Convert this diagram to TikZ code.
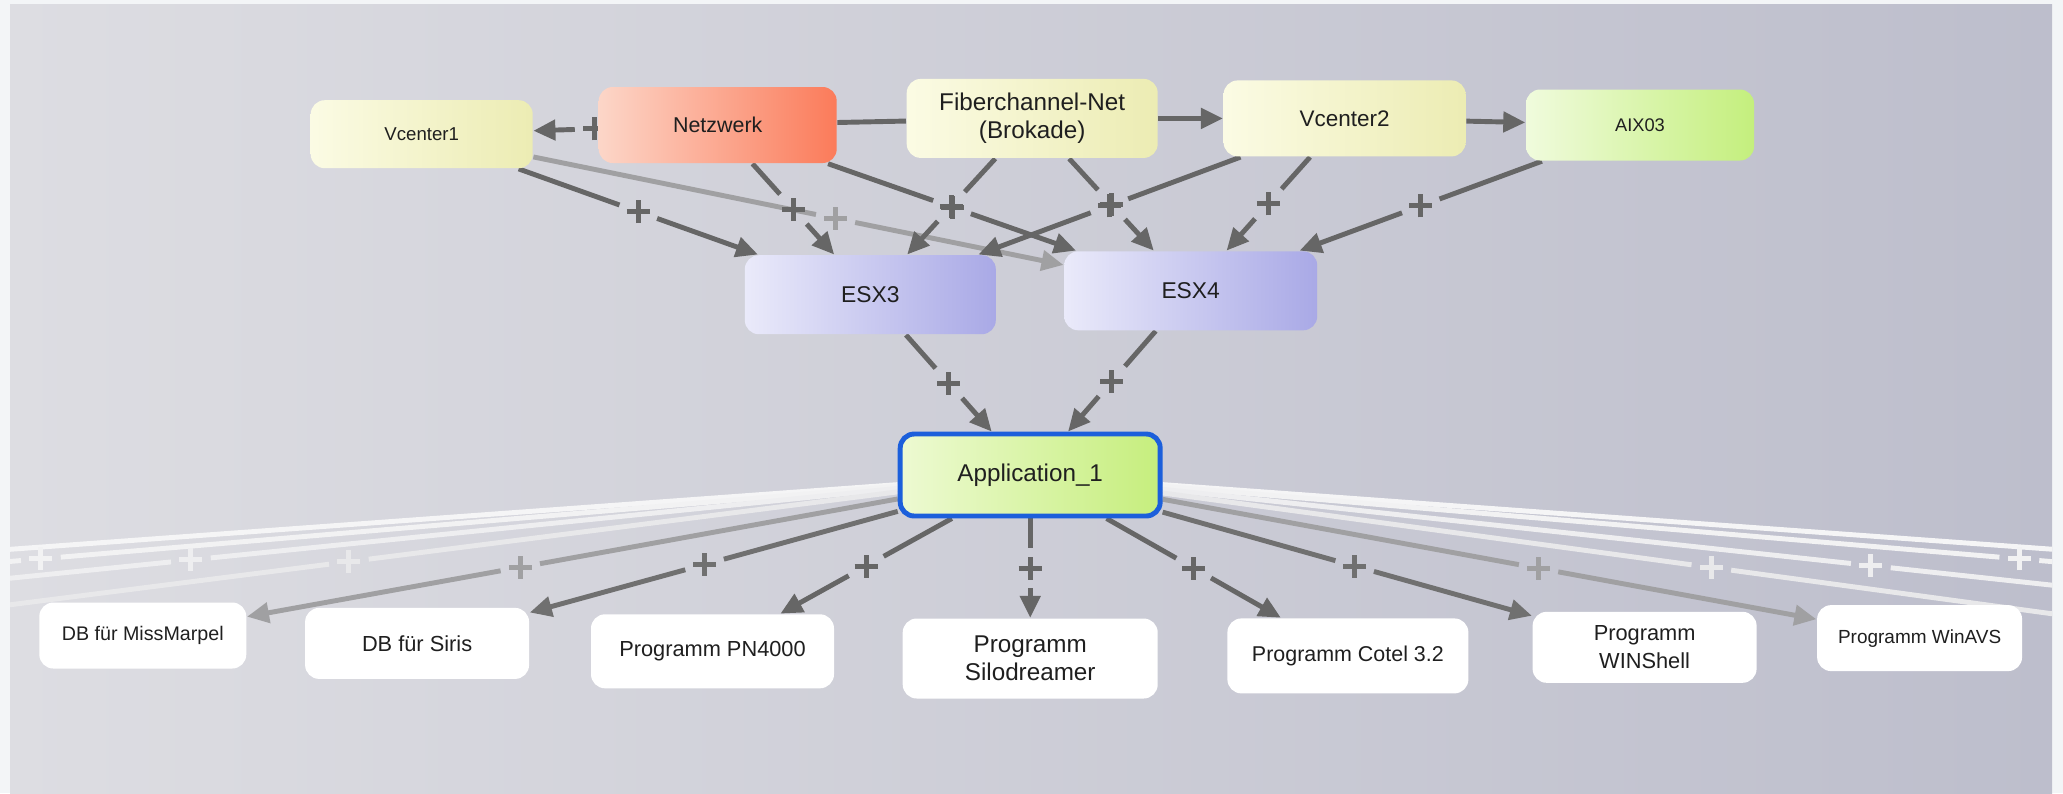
\documentclass[tikz,border=0pt]{standalone}
\usepackage{fontspec}
\setmainfont{Liberation Sans}
\usetikzlibrary{arrows.meta,backgrounds}

\definecolor{outside}{HTML}{F3F5F7}
\definecolor{paneL}{HTML}{DDDDE2}
\definecolor{paneR}{HTML}{BDBECC}
\definecolor{yelL}{HTML}{FBFBE4}
\definecolor{yelR}{HTML}{ECECB3}
\definecolor{redL}{HTML}{FCD6C8}
\definecolor{redR}{HTML}{FB7B5A}
\definecolor{grnL}{HTML}{F0FBDD}
\definecolor{grnR}{HTML}{C4EF7D}
\definecolor{vioL}{HTML}{EAEAFA}
\definecolor{vioR}{HTML}{A9A9E6}
\definecolor{appL}{HTML}{EDFAD2}
\definecolor{appR}{HTML}{C6EE7D}
\definecolor{appBorder}{HTML}{1C5FDB}
\definecolor{edgeA}{HTML}{666666}
\definecolor{edgeB}{HTML}{707070}
\definecolor{edgeC}{HTML}{A0A0A2}
\definecolor{fadeA}{HTML}{E8E8EA}
\definecolor{fadeB}{HTML}{EEEEF0}
\definecolor{fadeC}{HTML}{F2F2F3}
\definecolor{fadeD}{HTML}{F5F5F6}

\tikzset{plusmark/.pic={\draw[line width=1.4pt] (-1.15mm,0) -- (1.15mm,0) (0,-1.15mm) -- (0,1.15mm);}}

\begin{document}
\begin{tikzpicture}[
  box/.style={rounded corners=4pt,align=center,inner sep=0pt,text=black!88},
  ybox/.style={box,left color=yelL,right color=yelR},
  rbox/.style={box,left color=redL,right color=redR},
  gbox/.style={box,left color=grnL,right color=grnR},
  vbox/.style={box,left color=vioL,right color=vioR},
  appbox/.style={box,left color=appL,right color=appR,draw=appBorder,line width=1.4pt},
  wbox/.style={box,fill=white},
  sz/.style 2 args={minimum width=#1cm,minimum height=#2cm},
  fs/.style={font=\fontsize{#1}{7.9}\selectfont},
  conn/.style={line width=1.4pt,draw=#1},
  arr/.style={-{Triangle[length=2.2mm,width=2.0mm]}}
]
\useasboundingbox (0,0) rectangle (20.63,-7.93);

% top row
\node[ybox,sz={2.22}{0.68},fs=5.3] (v1) at (4.217,-1.342) {Vcenter1};
\node[rbox,sz={2.38}{0.76},fs=6.1] (net) at (7.177,-1.250) {Netzwerk};
\node[ybox,sz={2.51}{0.79},fs=6.9] (fib) at (10.322,-1.184) {Fiberchannel-Net\\(Brokade)};
\node[ybox,sz={2.42}{0.76},fs=6.4] (v2) at (13.446,-1.184) {Vcenter2};
\node[gbox,sz={2.28}{0.71},fs=5.2] (aix) at (16.400,-1.250) {AIX03};
% hosts
\node[vbox,sz={2.51}{0.79},fs=6.5] (esx3) at (8.703,-2.947) {ESX3};
\node[vbox,sz={2.53}{0.79},fs=6.5] (esx4) at (11.907,-2.908) {ESX4};
\node[appbox,sz={2.60}{0.82},fs=6.9] (app) at (10.302,-4.750) {Application\_1};
% children of the application
\node[wbox,sz={2.07}{0.66},fs=5.6] (mm) at (1.428,-6.355) {DB für MissMarpel};
\node[wbox,sz={2.24}{0.71},fs=6.2] (siris) at (4.171,-6.434) {DB für Siris};
\node[wbox,sz={2.43}{0.74},fs=6.2] (pn) at (7.125,-6.513) {Programm PN4000};
\node[wbox,sz={2.55}{0.80},fs=6.9] (silo) at (10.302,-6.585) {Programm\\Silodreamer};
\node[wbox,sz={2.41}{0.75},fs=6.1] (cotel) at (13.479,-6.559) {Programm Cotel 3.2};
\node[wbox,sz={2.24}{0.71},fs=6.2] (win) at (16.446,-6.473) {Programm\\WINShell};
\node[wbox,sz={2.05}{0.66},fs=5.4] (avs) at (19.196,-6.381) {Programm WinAVS};
% children outside the view
\coordinate (l1) at (-2.00,-6.315);
\coordinate (l2) at (-5.16,-6.315);
\coordinate (l3) at (-8.16,-6.315);
\coordinate (l4) at (-11.18,-6.315);
\coordinate (r1) at (22.60,-6.42);
\coordinate (r2) at (25.79,-6.42);
\coordinate (r3) at (28.76,-6.315);
\coordinate (r4) at (31.84,-6.315);

\begin{pgfonlayer}{background}
\fill[outside] (0,0) rectangle (20.63,-7.93);
\shade[left color=paneL,right color=paneR] (0.10,-0.04) rectangle (20.52,-7.93);
\begin{scope}
\clip (0.10,-0.04) rectangle (20.52,-7.93);
\draw[conn=edgeA] (net) -- (fib);
\draw[conn=edgeA,arr] (fib) -- (v2);
\draw[conn=edgeA,arr] (v2) -- (aix);
\foreach \a/\b/\p/\c in {app/l4/.5/fadeD,app/l3/.5/fadeC,app/l2/.5/fadeB,app/l1/.5/fadeA,
    app/r4/.5/fadeD,app/r3/.5/fadeC,app/r2/.5/fadeB,app/r1/.5/fadeA,
    app/mm/.58/edgeC,app/avs/.575/edgeC,v1/esx4/.57/edgeC,
    app/siris/.525/edgeB,app/win/.52/edgeB,
    app/pn/.5/edgeA,app/silo/.5/edgeA,app/cotel/.5/edgeA,
    esx3/app/.5/edgeA,esx4/app/.5/edgeA,
    v1/esx3/.5/edgeA,net/esx3/.5/edgeA,net/esx4/.5/edgeA,
    fib/esx3/.5/edgeA,fib/esx4/.5/edgeA,v2/esx3/.5/edgeA,
    v2/esx4/.5/edgeA,aix/esx4/.5/edgeA,net/v1/.05/edgeA}{
  \path (\a) -- coordinate[pos=\p] (m) (\b);
  \draw[conn=\c,shorten >=2mm] (\a) -- (m);
  \draw[conn=\c,arr,shorten <=2mm] (m) -- (\b);
  \pic[color=\c] at (m) {plusmark};
}
\end{scope}
\end{pgfonlayer}
\end{tikzpicture}
\end{document}
